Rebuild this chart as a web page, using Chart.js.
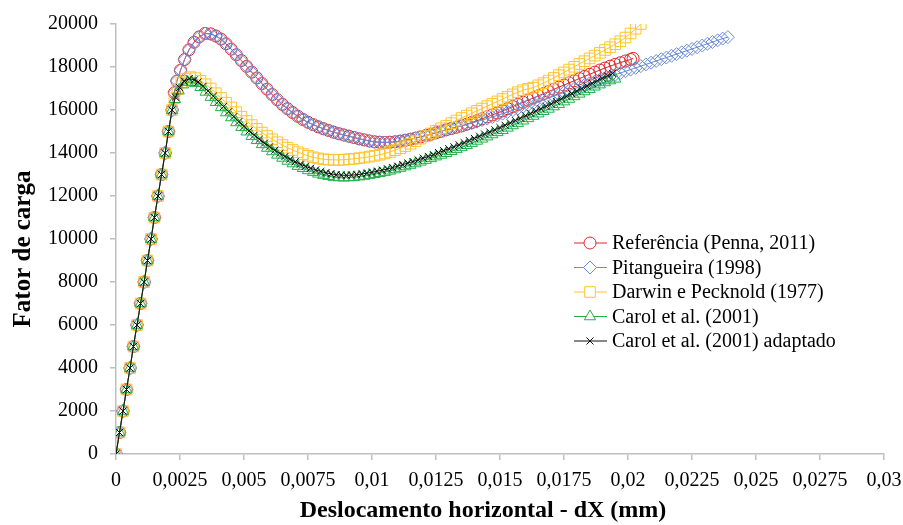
<!DOCTYPE html>
<html>
<head>
<meta charset="utf-8">
<script src="https://cdn.jsdelivr.net/npm/chart.js@4/dist/chart.umd.min.js"></script>
<style>
  html, body { margin: 0; padding: 0; background: #ffffff; }
  #wrap { width: 903px; height: 525px; }
</style>
</head>
<body>
<div id="wrap"><canvas id="c" width="903" height="525"></canvas></div>
<script>
// ---------- DATA ----------
const seriesNames = [
  'Referência (Penna, 2011)',
  'Pitangueira (1998)',
  'Darwin e Pecknold (1977)',
  'Carol et al. (2001)',
  'Carol et al. (2001) adaptado'
];
const xTitle = 'Deslocamento horizontal - dX (mm)';
const yTitle = 'Fator de carga';
const xTickValues = [0, 0.0025, 0.005, 0.0075, 0.01, 0.0125, 0.015, 0.0175, 0.02, 0.0225, 0.025, 0.0275, 0.03];
const xTickLabels = ['0', '0,0025', '0,005', '0,0075', '0,01', '0,0125', '0,015', '0,0175', '0,02', '0,0225', '0,025', '0,0275', '0,03'];

// common elastic branch (all models)
const elasticX = [0, 0.000137, 0.000274, 0.00041, 0.00055, 0.00068, 0.00082, 0.00096, 0.0011, 0.00123, 0.00137, 0.0015, 0.00164, 0.00178, 0.00192, 0.00205, 0.00219];
const elasticY = [0, 1000, 2000, 3000, 4000, 5000, 6000, 7000, 8000, 9000, 10000, 11000, 12000, 13000, 14000, 15000, 16000];

// Referência (Penna, 2011)
const refX = [0.00228,0.00238,0.00252,0.00268,0.00285,0.00305,0.00325,0.00348,0.0037,0.0039,
0.0041,0.0043,0.0045,0.0047,0.0049,0.0051,0.0053,0.0055,0.0057,0.0059,
0.0061,0.0063,0.0065,0.0067,0.0069,0.0071,0.0073,0.0075,0.0077,0.0079,
0.0081,0.0083,0.0085,0.0087,0.0089,0.0091,0.0093,0.0095,0.0097,0.0099,
0.0101,0.0103,0.0105,0.0107,0.0109,0.0111,0.0113,0.0115,0.0117,0.0119,
0.0121,0.0123,0.0125,0.0127,0.0129,0.0131,0.0133,0.0135,0.0137,0.0139,
0.0141,0.0143,0.0145,0.0147,0.0149,0.0151,0.0153,0.0155,0.0157,0.0159,
0.0161,0.0163,0.0165,0.0167,0.0169,0.0171,0.0173,0.0175,0.0177,0.0179,
0.0181,0.0183,0.0185,0.0187,0.0189,0.0191,0.0193,0.0195,0.0197,0.0199,
0.0201,0.0202];
const refY = [16800,17350,17850,18350,18800,19150,19400,19560,19540,19440,
19300,19080,18830,18570,18300,18030,17760,17490,17230,16970,
16720,16480,16260,16060,15880,15710,15560,15430,15320,15220,
15130,15050,14970,14900,14840,14780,14720,14660,14610,14560,
14520,14500,14490,14500,14520,14550,14590,14640,14690,14750,
14810,14870,14940,15010,15080,15140,15200,15260,15340,15420,
15500,15590,15680,15770,15860,15960,16060,16160,16260,16360,
16460,16560,16660,16760,16860,16960,17060,17160,17260,17360,
17460,17560,17660,17760,17860,17950,18040,18120,18200,18280,
18350,18400];

// Pitangueira (1998)
const pitX = [0.00228,0.00238,0.00252,0.00268,0.00285,0.00305,0.00325,0.00348,0.0037,0.0039,
0.0041,0.0043,0.0045,0.0047,0.0049,0.0051,0.0053,0.0055,0.0057,0.0059,
0.0061,0.0063,0.0065,0.0067,0.0069,0.0071,0.0073,0.0075,0.0077,0.0079,
0.0081,0.0083,0.0085,0.0087,0.0089,0.0091,0.0093,0.0095,0.0097,0.0099,
0.0101,0.0103,0.0105,0.0107,0.0109,0.0111,0.0113,0.0115,0.0117,0.0119,
0.0121,0.0123,0.0125,0.0127,0.0129,0.0131,0.0133,0.0135,0.0137,0.0139,
0.0141,0.0143,0.0145,0.0147,0.0149,0.0151,0.0153,0.0155,0.0157,0.0159,
0.0161,0.0163,0.0165,0.0167,0.0169,0.0171,0.0173,0.0175,0.0177,0.0179,
0.0181,0.0183,0.0185,0.0187,0.0189,0.0191,0.0193,0.0195,0.0197,0.0199,
0.0201,0.0203,0.0205,0.0207,0.0209,0.0211,0.0213,0.0215,0.0217,0.0219,
0.0221,0.0223,0.0225,0.0227,0.0229,0.0231,0.0233,0.0235,0.0237,0.0239];
const pitY = [16800,17350,17850,18350,18800,19150,19400,19560,19540,19440,
19300,19080,18830,18570,18300,18030,17760,17490,17230,16970,
16720,16480,16260,16060,15880,15710,15560,15430,15320,15220,
15130,15050,14970,14900,14840,14780,14720,14660,14610,14560,
14520,14500,14490,14500,14520,14550,14590,14640,14690,14750,
14810,14870,14940,15010,15080,15140,15200,15260,15320,15390,
15460,15530,15600,15670,15750,15830,15910,15990,16070,16150,
16230,16310,16400,16480,16560,16650,16730,16820,16900,16990,
17070,17160,17240,17320,17400,17480,17560,17640,17720,17800,
17880,17960,18040,18120,18200,18280,18360,18440,18520,18600,
18680,18760,18840,18920,19000,19080,19160,19240,19320,19390];

// Darwin e Pecknold (1977)
const darX = [0.00228,0.0024,0.00255,0.00272,0.0029,0.0031,0.0033,
0.0035,0.0037,0.0039,0.0041,0.0043,0.0045,0.0047,0.0049,0.0051,0.0053,
0.0055,0.0057,0.0059,0.0061,0.0063,0.0065,0.0067,0.0069,0.0071,0.0073,
0.0075,0.0077,0.0079,0.0081,0.0083,0.0085,0.0087,0.0089,0.0091,0.0093,
0.0095,0.0097,0.0099,0.0101,0.0103,0.0105,0.0107,0.0109,0.0111,0.0113,
0.0115,0.0117,0.0119,0.0121,0.0123,0.0125,0.0127,0.0129,0.0131,0.0133,
0.0135,0.0137,0.0139,0.0141,0.0143,0.0145,0.0147,0.0149,0.0151,0.0153,
0.0155,0.0157,0.0159,0.0161,0.0163,0.0165,0.0167,0.0169,0.0171,0.0173,
0.0175,0.0177,0.0179,0.0181,0.0183,0.0185,0.0187,0.0189,0.0191,0.0193,
0.0195,0.0197,0.0199,0.0201,0.0203,0.0205];
const darY = [16550,16980,17280,17460,17530,17480,17360,
17200,17000,16780,16560,16340,16120,15900,15690,15490,15300,
15120,14950,14790,14640,14500,14370,14250,14140,14040,13950,
13870,13800,13750,13710,13690,13680,13680,13690,13710,13730,
13760,13790,13830,13870,13920,13980,14050,14130,14220,14320,
14430,14550,14670,14790,14910,15030,15150,15270,15390,15510,
15630,15740,15850,15960,16070,16180,16290,16400,16510,16620,
16730,16830,16920,16990,17040,17150,17250,17370,17490,17620,
17750,17880,18010,18140,18270,18400,18530,18660,18790,18920,
19060,19200,19370,19560,19780,20000];

// Carol et al. (2001)
const carX = [0.0023,0.00245,0.00262,0.0028,0.00296,
0.0031,0.0033,0.0035,0.0037,0.0039,0.0041,0.0043,0.0045,0.0047,0.0049,
0.0051,0.0053,0.0055,0.0057,0.0059,0.0061,0.0063,0.0065,0.0067,0.0069,
0.0071,0.0073,0.0075,0.0077,0.0079,0.0081,0.0083,0.0085,0.0087,0.0089,
0.0091,0.0093,0.0095,0.0097,0.0099,0.0101,0.0103,0.0105,0.0107,0.0109,
0.0111,0.0113,0.0115,0.0117,0.0119,0.0121,0.0123,0.0125,0.0127,0.0129,
0.0131,0.0133,0.0135,0.0137,0.0139,0.0141,0.0143,0.0145,0.0147,0.0149,
0.0151,0.0153,0.0155,0.0157,0.0159,0.0161,0.0163,0.0165,0.0167,0.0169,
0.0171,0.0173,0.0175,0.0177,0.0179,0.0181,0.0183,0.0185,0.0187,0.0189,
0.0191,0.0193,0.0195];
const carY = [16500,16900,17180,17300,17290,
17240,17060,16840,16600,16360,16120,15880,15650,15420,15200,
14990,14780,14590,14400,14230,14070,13910,13770,13630,13510,
13390,13290,13190,13110,13030,12970,12920,12880,12860,12850,
12860,12870,12900,12930,12970,13010,13060,13110,13170,13230,
13300,13370,13440,13510,13590,13670,13750,13830,13910,13990,
14080,14170,14260,14360,14460,14560,14660,14760,14860,14960,
15060,15170,15280,15390,15500,15610,15720,15830,15940,16050,
16160,16270,16390,16510,16630,16750,16860,16970,17080,17180,
17280,17370,17450];

// Carol et al. (2001) adaptado
const adaX = [0.00232,0.00248,0.00266,0.00286,0.00306,
0.0032,0.0034,0.0036,0.0038,0.004,0.0042,0.0044,0.0046,0.0048,0.005,
0.0052,0.0054,0.0056,0.0058,0.006,0.0062,0.0064,0.0066,0.0068,0.007,
0.0072,0.0074,0.0076,0.0078,0.008,0.0082,0.0084,0.0086,0.0088,0.009,
0.0092,0.0094,0.0096,0.0098,0.01,0.0102,0.0104,0.0106,0.0108,0.011,
0.0112,0.0114,0.0116,0.0118,0.012,0.0122,0.0124,0.0126,0.0128,0.013,
0.0132,0.0134,0.0136,0.0138,0.014,0.0142,0.0144,0.0146,0.0148,0.015,
0.0152,0.0154,0.0156,0.0158,0.016,0.0162,0.0164,0.0166,0.0168,0.017,
0.0172,0.0174,0.0176,0.0178,0.018,0.0182,0.0184,0.0186,0.0188,0.019,
0.0192,0.0194];
const adaY = [16600,17050,17340,17460,17400,
17300,17100,16880,16640,16400,16160,15920,15690,15460,15240,
15030,14830,14640,14460,14290,14130,13980,13840,13710,13590,
13480,13380,13290,13210,13140,13080,13030,12990,12970,12960,
12970,12990,13020,13060,13100,13150,13200,13260,13320,13390,
13460,13530,13600,13680,13760,13840,13920,14020,14110,14200,
14290,14380,14480,14580,14680,14780,14880,14980,15080,15180,
15290,15400,15510,15620,15730,15840,15950,16060,16170,16280,
16400,16520,16640,16760,16880,17000,17120,17240,17360,17480,
17590,17700];

// ---------- BUILD ----------
function pts(xs, ys) {
  const all = elasticX.concat(xs);
  const allY = elasticY.concat(ys);
  return all.map((x, i) => ({ x: x, y: allY[i] }));
}

const styles = [
  { color: '#E3262B', style: 'circle',   radius: 6,   order: 5 },
  { color: '#6A8BD4', style: 'rectRot',  radius: 6.5, order: 4 },
  { color: '#FFC52E', style: 'rect',     radius: 7.5, order: 3 },
  { color: '#22B14C', style: 'triangle', radius: 6.5, order: 2 },
  { color: '#111111', style: 'crossRot', radius: 5,   order: 1 }
];
const seriesData = [pts(refX, refY), pts(pitX, pitY), pts(darX, darY), pts(carX, carY), pts(adaX, adaY)];

const datasets = seriesNames.map((name, i) => ({
  label: name,
  data: seriesData[i],
  showLine: true,
  borderColor: styles[i].color,
  backgroundColor: 'rgba(255,255,255,0)',
  borderWidth: 1,
  pointStyle: styles[i].style,
  pointRadius: styles[i].radius,
  pointBorderWidth: 1,
  pointBorderColor: styles[i].color,
  pointBackgroundColor: 'rgba(255,255,255,0)',
  order: styles[i].order,
  tension: 0
}));

const serif = '"Liberation Serif", "Times New Roman", serif';

const legendPlugin = {
  id: 'insideLegend',
  afterDraw(chart) {
    const ctx = chart.ctx;
    ctx.save();
    const x0 = 574, x1 = 607, mx = 590, tx = 612, y0 = 243, dy = 24.5;
    chart.data.datasets.forEach((ds, i) => {
      const y = y0 + i * dy;
      ctx.strokeStyle = ds.borderColor;
      ctx.lineWidth = 1;
      ctx.beginPath();
      ctx.moveTo(x0, y);
      ctx.lineTo(x1, y);
      ctx.stroke();
      ctx.fillStyle = '#ffffff';
      ctx.strokeStyle = ds.borderColor;
      if (Chart.helpers && Chart.helpers.drawPoint) {
        Chart.helpers.drawPoint(ctx, { pointStyle: ds.pointStyle, rotation: 0, radius: ds.pointRadius, borderWidth: 1 }, mx, y);
      }
      ctx.fillStyle = '#000000';
      ctx.font = '20px ' + serif;
      ctx.textAlign = 'left';
      ctx.textBaseline = 'middle';
      ctx.fillText(ds.label, tx, y + 1);
    });
    ctx.restore();
  }
};

const axisTitlePlugin = {
  id: 'axisTitles',
  afterDraw(chart) {
    const ctx = chart.ctx;
    ctx.save();
    ctx.fillStyle = '#000000';
    ctx.font = 'bold 24px ' + serif;
    ctx.textAlign = 'center';
    ctx.textBaseline = 'middle';
    ctx.fillText(xTitle, 483, 511);
    ctx.translate(24, 249);
    ctx.rotate(-Math.PI / 2);
    ctx.font = 'bold 25px ' + serif;
    ctx.fillText(yTitle, 0, 0);
    ctx.restore();
  }
};

const axisColor = '#BFBFBF';
const tickFont = { family: serif, size: 20 };

new Chart(document.getElementById('c'), {
  type: 'scatter',
  data: { datasets: datasets },
  options: {
    responsive: false,
    devicePixelRatio: 1,
    animation: false,
    layout: { padding: { top: 24, right: 19, left: 0, bottom: 0 } },
    plugins: { legend: { display: false }, tooltip: { enabled: false } },
    scales: {
      x: {
        type: 'linear',
        min: 0,
        max: 0.03,
        afterBuildTicks: (s) => { s.ticks = xTickValues.map(v => ({ value: v })); },
        afterFit: (s) => { s.height = 71; s.paddingLeft = 0; s.paddingRight = 0; },
        ticks: {
          color: '#000',
          font: tickFont,
          padding: 9,
          maxRotation: 0,
          autoSkip: false,
          callback: (v, i) => xTickLabels[i]
        },
        grid: { display: true, drawOnChartArea: false, drawTicks: true, tickLength: 6, color: axisColor, lineWidth: 1.5 },
        border: { display: true, color: axisColor, width: 1.5 },
        title: { display: false }
      },
      y: {
        type: 'linear',
        min: 0,
        max: 20000,
        afterFit: (s) => { s.width = 116; s.paddingTop = 0; s.paddingBottom = 0; },
        ticks: {
          stepSize: 2000,
          color: '#000',
          font: tickFont,
          padding: 12,
          callback: (v) => String(v)
        },
        grid: { display: true, drawOnChartArea: false, drawTicks: true, tickLength: 6, color: axisColor, lineWidth: 1.5 },
        border: { display: true, color: axisColor, width: 1.5 },
        title: { display: false }
      }
    }
  },
  plugins: [legendPlugin, axisTitlePlugin]
});
</script>
</body>
</html>
